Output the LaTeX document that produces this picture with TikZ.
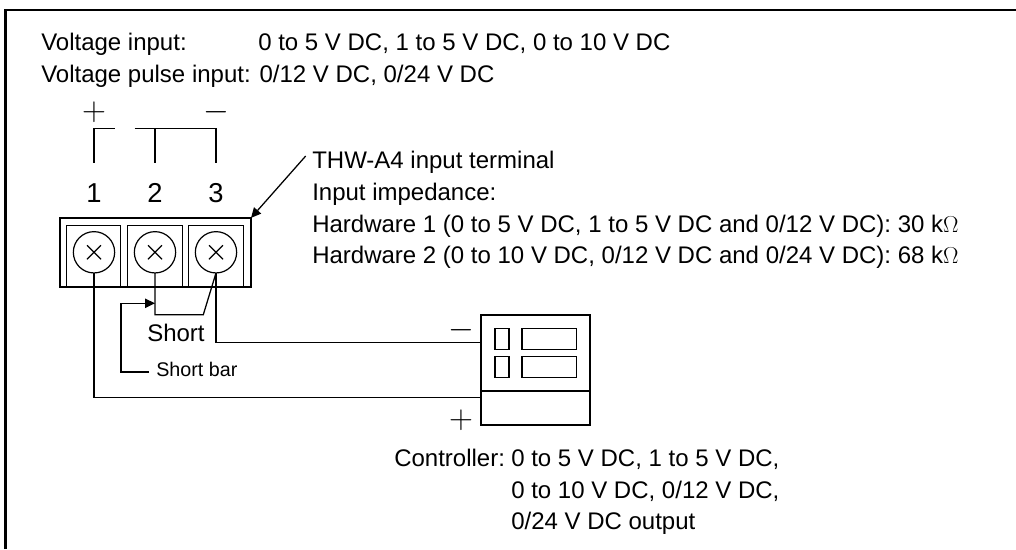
\documentclass[tikz,border=0pt]{standalone}
\usepackage{fontspec}
\setmainfont{Liberation Sans}
\usetikzlibrary{arrows.meta}
\tikzset{
  txt/.style={anchor=base west,inner sep=0pt,font=\fontsize{18}{20}\selectfont},
  smalltxt/.style={txt,font=\fontsize{14.8}{18}\selectfont},
  pin/.style={anchor=base,inner sep=0pt,font=\fontsize{20.5}{22}\selectfont},
  sign/.style={inner sep=0pt,font=\fontsize{28}{28}\selectfont},
  block/.style={draw,line width=1.6pt,outer sep=0pt,inner sep=0pt,minimum width=143.25pt,minimum height=51.75pt},
  cell/.style={draw,line width=0.9pt,outer sep=0pt,inner sep=0pt,minimum width=41pt,minimum height=46.3pt},
  screw/.style={circle,draw,line width=0.9pt,outer sep=0pt,inner sep=0pt,minimum size=31pt,
    path picture={\draw[line width=0.9pt] (path picture bounding box.center) ++(-7,-7) -- ++(14,14) ++(-14,0) -- ++(14,-14);}},
  unit/.style={draw,line width=1.6pt,outer sep=0pt,inner sep=0pt,minimum width=81.75pt,minimum height=82.7pt},
  lamp/.style={draw,line width=0.9pt,outer sep=0pt,inner sep=0pt,minimum width=10.5pt,minimum height=15.9pt},
  display/.style={draw,line width=0.9pt,outer sep=0pt,inner sep=0pt,minimum width=41pt,minimum height=15.9pt},
  wire/.style={line width=0.95pt},
  barwire/.style={line width=1.2pt}
}
\begin{document}
\begin{tikzpicture}[x=0.75pt,y=-0.75pt]
  \useasboundingbox (0,0) rectangle (1016,549);
  % frame
  \draw[line width=1.9pt] (5.5,549) -- (5.5,10) -- (1016,10);
  % texts
  \node[txt] (volt) at (41,50.7) {Voltage input:};
  \node[txt] (voltvals) at (258,50.7) {0 to 5 V DC, 1 to 5 V DC, 0 to 10 V DC};
  \node[txt] (pulse) at (41,82.7) {Voltage pulse input: 0/12 V DC, 0/24 V DC};
  \node[txt] (thw) at (312,168) {THW-A4 input terminal};
  \node[txt] (imp) at (312,200) {Input impedance:};
  \node[txt] (hw1) at (312,232) {Hardware 1 (0 to 5 V DC, 1 to 5 V DC and 0/12 V DC): 30 k$\Omega$};
  \node[txt] (hw2) at (312,263.5) {Hardware 2 (0 to 10 V DC, 0/12 V DC and 0/24 V DC): 68 k$\Omega$};
  \node[txt] (ctrla) at (394,466) {Controller:};
  \node[txt] (ctrlb) at (511,466) {0 to 5 V DC, 1 to 5 V DC,};
  \node[txt] (ctrlc) at (511,498) {0 to 10 V DC, 0/12 V DC,};
  \node[txt] (ctrld) at (511,529.5) {0/24 V DC output};
  \node[txt] (short) at (147,341.7) {Short};
  \node[smalltxt] (bar) at (156,376) {Short bar};
  % terminal
  \node[pin] (p1) at (94,202) {1};
  \node[pin] (p2) at (155,202) {2};
  \node[pin] (p3) at (216,202) {3};
  \node[sign] (plus) at (94,112) {$+$};
  \node[sign] (minus) at (216,112) {$-$};
  \node[block] (term) at (155.5,252.4) {};
  \node[cell] (c1) at (93.5,256.2) {};
  \node[cell] (c2) at (154.8,256.2) {};
  \node[cell] (c3) at (216,256.2) {};
  \node[screw] (s1) at (94,252.3) {};
  \node[screw] (s2) at (155,252.3) {};
  \node[screw] (s3) at (216,252.3) {};
  % controller
  \node[unit] (ctrl) at (535.8,369.9) {};
  \node[lamp] (l1) at (502,338.8) {};
  \node[lamp] (l2) at (502,366.8) {};
  \node[display] (d1) at (549.3,338.8) {};
  \node[display] (d2) at (549.3,366.8) {};
  \node[sign] (cminus) at (461,330) {$-$};
  \node[sign] (cplus) at (461,420) {$+$};
  \coordinate (leader) at (305.7,156);
  \coordinate (tl) at (94,128.3);
  \coordinate (tr) at (134.5,128.3);
  \coordinate (bend) at (155,314.7);
  \coordinate (kink) at (203.3,314.7);
  \coordinate (hit) at (155,303.3);
  \coordinate (barend) at (149,371.7);
  \coordinate (barcorner) at (121,371.7);
  % connectors
  \begin{scope}[wire]
    \draw (94,162.7) -- (tl) -- (115,128.3);
    \draw (tr) -- (216,128.3) -- (216,162.7);
    \draw (155,128.3) -- (155,162.7);
    \draw (s1.south) |- (ctrl.west |- 0,397.7);
    \draw (s3.south) |- (ctrl.west |- 0,342.5);
    \draw (s2.south) -- (bend) -- (kink) -- (s3.south);
    \draw (ctrl.west |- 0,391) -- (ctrl.east |- 0,391);
    \draw[-{Triangle[length=7.5pt,width=7pt]}] (leader) -- (term.north east);
  \end{scope}
  \draw[barwire,-{Triangle[length=7.5pt,width=7pt]}] (barend) -- (barcorner) -- (121,303.3) -- (hit);
\end{tikzpicture}
\end{document}
